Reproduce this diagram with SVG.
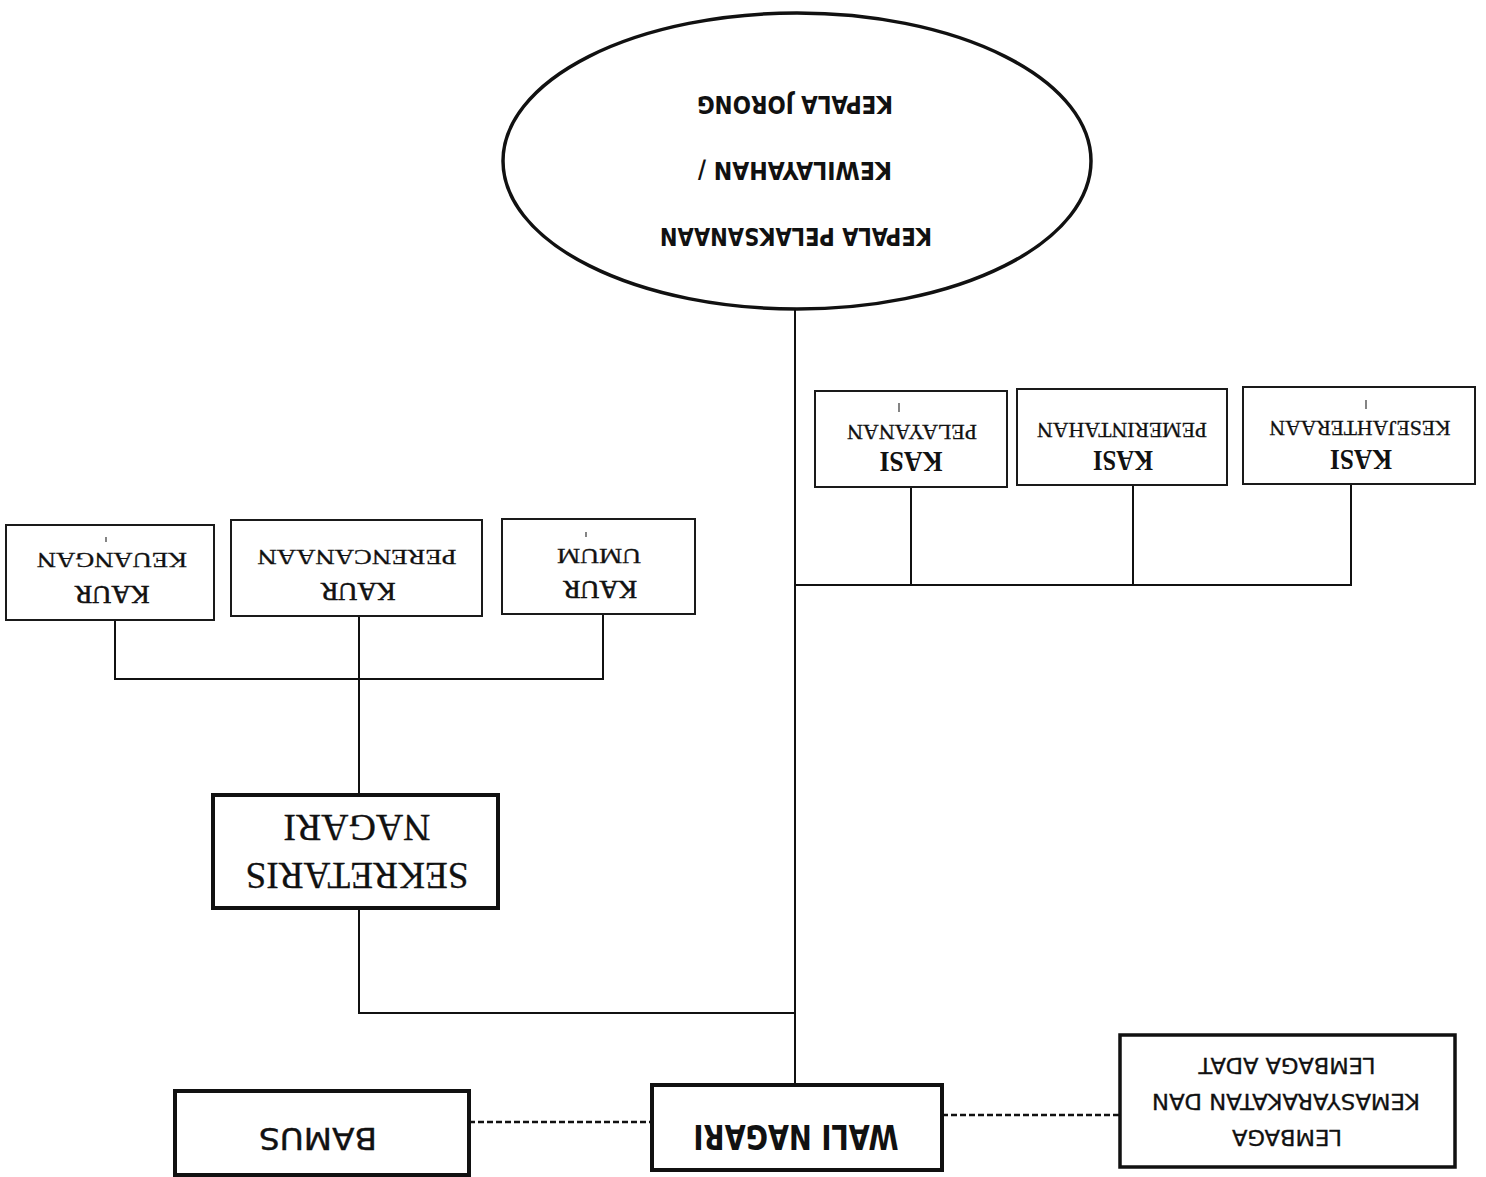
<svg xmlns="http://www.w3.org/2000/svg" width="1486" height="1177" viewBox="0 0 1486 1177">
<style>
.bg{fill:#ffffff}
.thin{fill:#ffffff;stroke:#1a1a1a;stroke-width:2}
.thick{fill:#ffffff;stroke:#111111;stroke-width:4}
.conn{fill:none;stroke:#111111;stroke-width:2}
.dash{fill:none;stroke:#111111;stroke-width:2.5;stroke-dasharray:6 3}
.tick{stroke:#333333;stroke-width:1.2}
text{fill:#111111;text-anchor:middle;dominant-baseline:central}
.sansb{font-family:"DejaVu Sans Condensed","DejaVu Sans","Liberation Sans",sans-serif;font-size:25px;font-weight:bold}
.wali{font-family:"DejaVu Sans Condensed","DejaVu Sans","Liberation Sans",sans-serif;font-size:33px;font-weight:bold}
.bamus{font-family:"DejaVu Sans","Liberation Sans",sans-serif;font-size:31px;stroke:#111111;stroke-width:0.4}
.lem{font-family:"DejaVu Sans","Liberation Sans",sans-serif;font-size:22px;stroke:#111111;stroke-width:0.3}
.serifb{font-family:"Liberation Serif","DejaVu Serif",serif;font-size:30px;font-weight:bold}
.serif{font-family:"Liberation Serif","DejaVu Serif",serif;font-size:26px;stroke:#111111;stroke-width:0.6}
.serifs{font-family:"Liberation Serif","DejaVu Serif",serif;font-size:22px;stroke:#111111;stroke-width:0.3}
.serifl{font-family:"Liberation Serif","DejaVu Serif",serif;font-size:38px;stroke:#111111;stroke-width:0.3}
</style>
<rect class="bg" x="0" y="0" width="1486" height="1177"/>

<g id="connectors">
  <line class="conn" x1="795" y1="310" x2="795" y2="1085"/>
  <polyline class="conn" points="911,487 911,585 1351,585 1351,484"/>
  <line class="conn" x1="795" y1="585" x2="911" y2="585"/>
  <line class="conn" x1="1133" y1="485" x2="1133" y2="585"/>
  <polyline class="conn" points="115,620 115,679 603,679 603,614"/>
  <line class="conn" x1="359" y1="616" x2="359" y2="795"/>
  <polyline class="conn" points="359,908 359,1013 795,1013"/>
  <line class="dash" x1="469" y1="1122" x2="652" y2="1122"/>
  <line class="dash" x1="942" y1="1115" x2="1120" y2="1115"/>
</g>

<g id="kepala-pelaksanaan">
  <ellipse cx="797" cy="161" rx="294" ry="148" fill="#ffffff" stroke="#111111" stroke-width="3.5"/>
  <text class="sansb" x="796" y="236" transform="rotate(180 796 236)" textLength="272" lengthAdjust="spacingAndGlyphs">KEPALA PELAKSANAAN</text>
  <text class="sansb" x="795" y="170" transform="rotate(180 795 170)" textLength="194" lengthAdjust="spacingAndGlyphs">KEWILAYAHAN /</text>
  <text class="sansb" x="795" y="104" transform="rotate(180 795 104)" textLength="196" lengthAdjust="spacingAndGlyphs">KEPALA JORONG</text>
</g>

<g id="kasi-pelayanan">
  <rect class="thin" x="815" y="391" width="192" height="96"/>
  <text class="serifb" x="911" y="462" transform="rotate(180 911 462)" textLength="63" lengthAdjust="spacingAndGlyphs">KASI</text>
  <text class="serifs" x="912" y="432" transform="rotate(180 912 432)" textLength="130" lengthAdjust="spacingAndGlyphs">PELAYANAN</text>
  <line class="tick" x1="899" y1="403" x2="899" y2="412"/>
</g>

<g id="kasi-pemerintahan">
  <rect class="thin" x="1017" y="389" width="210" height="96"/>
  <text class="serifb" x="1123" y="461" transform="rotate(180 1123 461)" textLength="60" lengthAdjust="spacingAndGlyphs">KASI</text>
  <text class="serifs" x="1122" y="430" transform="rotate(180 1122 430)" textLength="170" lengthAdjust="spacingAndGlyphs">PEMERINTAHAN</text>
</g>

<g id="kasi-kesejahteraan">
  <rect class="thin" x="1243" y="387" width="232" height="97"/>
  <text class="serifb" x="1361" y="460" transform="rotate(180 1361 460)" textLength="62" lengthAdjust="spacingAndGlyphs">KASI</text>
  <text class="serifs" x="1360" y="428" transform="rotate(180 1360 428)" textLength="181" lengthAdjust="spacingAndGlyphs">KESEJAHTERAAN</text>
  <line class="tick" x1="1366" y1="400" x2="1366" y2="409"/>
</g>

<g id="kaur-keuangan">
  <rect class="thin" x="6" y="525" width="208" height="95"/>
  <text class="serif" x="112" y="594" transform="rotate(180 112 594)" textLength="75" lengthAdjust="spacingAndGlyphs">KAUR</text>
  <text class="serifs" x="112" y="560" transform="rotate(180 112 560)" textLength="150" lengthAdjust="spacingAndGlyphs">KEUANGAN</text>
  <line class="tick" x1="106" y1="537" x2="106" y2="542"/>
</g>

<g id="kaur-perencanaan">
  <rect class="thin" x="231" y="520" width="251" height="96"/>
  <text class="serif" x="358" y="591" transform="rotate(180 358 591)" textLength="75" lengthAdjust="spacingAndGlyphs">KAUR</text>
  <text class="serifs" x="357" y="557" transform="rotate(180 357 557)" textLength="199" lengthAdjust="spacingAndGlyphs">PERENCANAAN</text>
</g>

<g id="kaur-umum">
  <rect class="thin" x="502" y="519" width="193" height="95"/>
  <text class="serif" x="600" y="589" transform="rotate(180 600 589)" textLength="74" lengthAdjust="spacingAndGlyphs">KAUR</text>
  <text class="serifs" x="599" y="556" transform="rotate(180 599 556)" textLength="84" lengthAdjust="spacingAndGlyphs">UMUM</text>
  <line class="tick" x1="586" y1="532" x2="586" y2="537"/>
</g>

<g id="sekretaris-nagari">
  <rect class="thick" x="213" y="795" width="285" height="113"/>
  <text class="serifl" x="357" y="876" transform="rotate(180 357 876)" textLength="223" lengthAdjust="spacingAndGlyphs">SEKRETARIS</text>
  <text class="serifl" x="357" y="828" transform="rotate(180 357 828)" textLength="147" lengthAdjust="spacingAndGlyphs">NAGARI</text>
</g>

<g id="wali-nagari">
  <rect class="thick" x="652" y="1085" width="290" height="85"/>
  <text class="wali" x="796" y="1136" transform="rotate(180 796 1136)" textLength="205" lengthAdjust="spacingAndGlyphs">WALI NAGARI</text>
</g>

<g id="bamus">
  <rect class="thick" x="175" y="1091" width="294" height="84"/>
  <text class="bamus" x="318" y="1139" transform="rotate(180 318 1139)" textLength="118" lengthAdjust="spacingAndGlyphs">BAMUS</text>
</g>

<g id="lembaga">
  <rect class="thick" x="1120" y="1035" width="335" height="132" style="stroke-width:3.5"/>
  <text class="lem" x="1287" y="1137" transform="rotate(180 1287 1137)" textLength="110" lengthAdjust="spacingAndGlyphs">LEMBAGA</text>
  <text class="lem" x="1286" y="1101" transform="rotate(180 1286 1101)" textLength="268" lengthAdjust="spacingAndGlyphs">KEMASYARAKATAN DAN</text>
  <text class="lem" x="1287" y="1065" transform="rotate(180 1287 1065)" textLength="177" lengthAdjust="spacingAndGlyphs">LEMBAGA ADAT</text>
</g>
</svg>
